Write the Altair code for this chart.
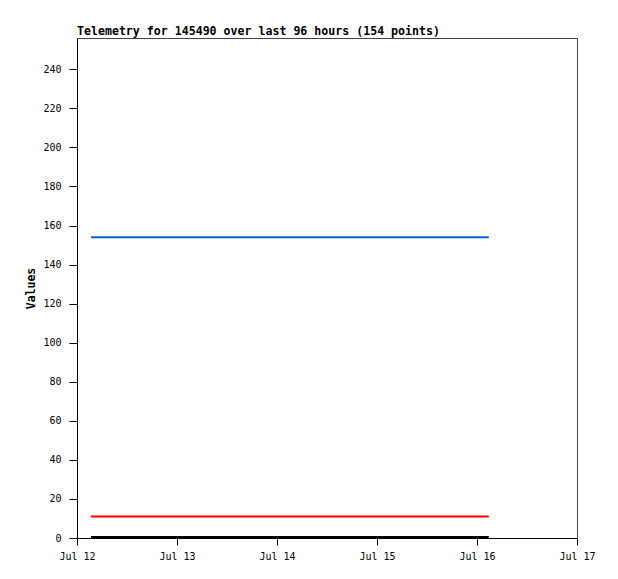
import altair as alt
import pandas as pd

# Data
series_names = ["blue", "red", "black"]
series_colors = ["#0066cc", "#ff0000", "#000000"]
start_time = "2024-07-12T03:20:00Z"
end_time = "2024-07-16T02:50:00Z"
series_values = [154, 11, 0.5]
tick_days = [12, 13, 14, 15, 16, 17]

rows = []
for name, val in zip(series_names, series_values):
    rows.append({"series": name, "time": start_time, "value": val})
    rows.append({"series": name, "time": end_time, "value": val})
df = pd.DataFrame(rows)

mono = "DejaVu Sans Mono"

chart = alt.Chart(df).mark_line(strokeWidth=2, clip=True).encode(
    x=alt.X(
        "time:T",
        scale=alt.Scale(
            type="utc",
            domain=[
                alt.DateTime(year=2024, month=7, date=12, utc=True),
                alt.DateTime(year=2024, month=7, date=17, utc=True),
            ],
        ),
        axis=alt.Axis(
            title=None,
            values=[alt.DateTime(year=2024, month=7, date=d, utc=True) for d in tick_days],
            format="%b %d",
            grid=False,
            tickSize=7,
            labelPadding=6,
            labelFlush=False,
            labelOverlap=False,
            domainColor="#000000",
            tickColor="#000000",
            labelFont=mono,
            labelFontSize=10,
            labelColor="#000000",
        ),
    ),
    y=alt.Y(
        "value:Q",
        scale=alt.Scale(domain=[0, 256], nice=False),
        axis=alt.Axis(
            title="Values",
            values=list(range(0, 241, 20)),
            grid=False,
            tickSize=8,
            labelPadding=8,
            labelFlush=False,
            domainColor="#000000",
            tickColor="#000000",
            labelFont=mono,
            labelFontSize=10,
            labelColor="#000000",
            titleFont=mono,
            titleFontSize=11.5,
            titleFontWeight="bold",
            titlePadding=6,
            titleColor="#000000",
        ),
    ),
    color=alt.Color(
        "series:N",
        scale=alt.Scale(domain=series_names, range=series_colors),
        legend=None,
    ),
    detail="series:N",
).properties(
    width=500,
    height=500,
    title=alt.TitleParams(
        "Telemetry for 145490 over last 96 hours (154 points)",
        anchor="start",
        frame="group",
        font=mono,
        fontSize=11.6,
        fontWeight="bold",
        color="#000000",
        offset=0,
    ),
    autosize=alt.AutoSizeParams(type="none"),
    padding={"left": 69, "top": 30, "right": 30, "bottom": 30},
).configure(
    background="#ffffff",
    view=alt.ViewConfig(stroke="#444444", strokeWidth=1),
)

chart.save("out.html", embed_options={"renderer": "svg", "actions": False})
